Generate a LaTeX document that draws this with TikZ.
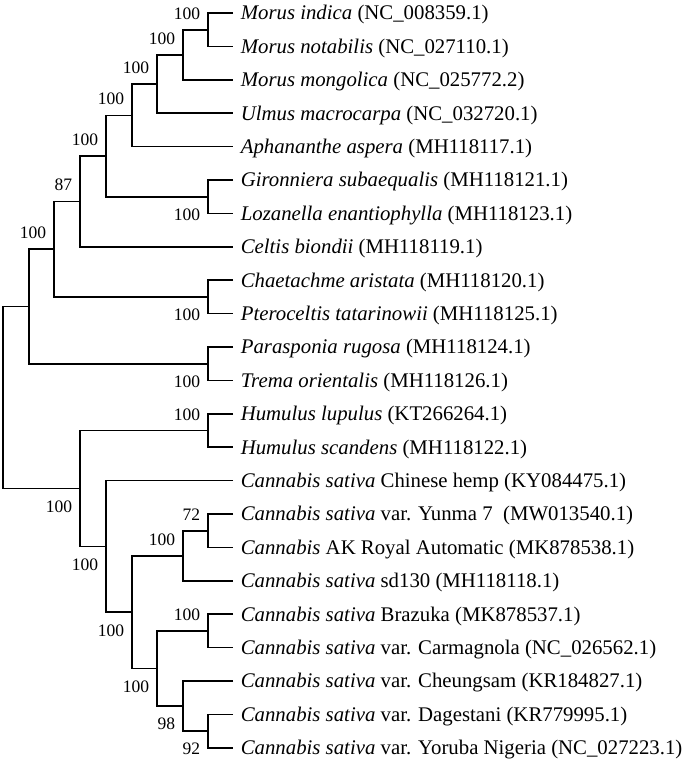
\documentclass[tikz,border=0pt]{standalone}
\usepackage{fontspec}
\setmainfont{Liberation Serif}

\begin{document}
\begin{tikzpicture}[x=1pt, y=-1pt, line width=1.6pt,
  leaf/.style={anchor=west, inner xsep=7pt, inner ysep=0pt, text height=13.8pt, text depth=0pt, font=\fontsize{20.8}{24}\selectfont},
  bsa/.style={anchor=south east, inner sep=0pt, xshift=-7pt, yshift=9.5pt, font=\fontsize{17.5}{20}\selectfont},
  bsb/.style={anchor=north east, inner sep=0pt, xshift=-7pt, yshift=-11.5pt, font=\fontsize{17.5}{20}\selectfont}]
  \useasboundingbox (0,0) rectangle (683,763);

  \node[leaf] (l1) at (233,13.0) {\textit{Morus indica} (NC\_008359.1)};
  \node[leaf] (l2) at (233,46.4) {\textit{Morus notabilis} (NC\_027110.1)};
  \node[leaf] (l3) at (233,79.8) {\textit{Morus mongolica} (NC\_025772.2)};
  \node[leaf] (l4) at (233,113.2) {\textit{Ulmus macrocarpa} (NC\_032720.1)};
  \node[leaf] (l5) at (233,146.6) {\textit{Aphananthe aspera} (MH118117.1)};
  \node[leaf] (l6) at (233,180.0) {\textit{Gironniera subaequalis} (MH118121.1)};
  \node[leaf] (l7) at (233,213.4) {\textit{Lozanella enantiophylla} (MH118123.1)};
  \node[leaf] (l8) at (233,246.8) {\textit{Celtis biondii} (MH118119.1)};
  \node[leaf] (l9) at (233,280.2) {\textit{Chaetachme aristata} (MH118120.1)};
  \node[leaf] (l10) at (233,313.6) {\textit{Pteroceltis tatarinowii} (MH118125.1)};
  \node[leaf] (l11) at (233,347.0) {\textit{Parasponia rugosa} (MH118124.1)};
  \node[leaf] (l12) at (233,380.4) {\textit{Trema orientalis} (MH118126.1)};
  \node[leaf] (l13) at (233,413.8) {\textit{Humulus lupulus} (KT266264.1)};
  \node[leaf] (l14) at (233,447.2) {\textit{Humulus scandens} (MH118122.1)};
  \node[leaf] (l15) at (233,480.6) {\textit{Cannabis sativa} Chinese hemp (KY084475.1)};
  \node[leaf] (l16) at (233,514.0) {\textit{Cannabis sativa} var. Yunma 7 \ (MW013540.1)};
  \node[leaf] (l17) at (233,547.4) {\textit{Cannabis} AK Royal Automatic (MK878538.1)};
  \node[leaf] (l18) at (233,580.8) {\textit{Cannabis sativa} sd130 (MH118118.1)};
  \node[leaf] (l19) at (233,614.2) {\textit{Cannabis sativa} Brazuka (MK878537.1)};
  \node[leaf] (l20) at (233,647.6) {\textit{Cannabis sativa} var. Carmagnola (NC\_026562.1)};
  \node[leaf] (l21) at (233,681.0) {\textit{Cannabis sativa} var. Cheungsam (KR184827.1)};
  \node[leaf] (l22) at (233,714.4) {\textit{Cannabis sativa} var. Dagestani (KR779995.1)};
  \node[leaf] (l23) at (233,747.8) {\textit{Cannabis sativa} var. Yoruba Nigeria (NC\_027223.1)};

  % inner nodes
  \coordinate (n1) at (208,29.7);
  \coordinate (n2) at (183,54.75);
  \coordinate (n3) at (157,84.0);
  \coordinate (n4) at (132,115.3);
  \coordinate (n5) at (208,196.7);
  \coordinate (n6) at (106,156.0);
  \coordinate (n7) at (80,201.4);
  \coordinate (n8) at (208,296.9);
  \coordinate (n9) at (54,249.2);
  \coordinate (n10) at (208,363.7);
  \coordinate (n11) at (29,306.5);
  \coordinate (n12) at (208,430.5);
  \coordinate (n13) at (208,530.7);
  \coordinate (n14) at (183,555.8);
  \coordinate (n15) at (208,630.9);
  \coordinate (n16) at (208,731.1);
  \coordinate (n17) at (183,706.0);
  \coordinate (n18) at (157,668.5);
  \coordinate (n19) at (132,612.2);
  \coordinate (n20) at (106,546.4);
  \coordinate (n21) at (80,488.5);
  \coordinate (n0) at (3,397.5);

  \draw (l1.west) -| (n1) |- (l2.west);
  \draw (n1) -| (n2) |- (l3.west);
  \draw (n2) -| (n3) |- (l4.west);
  \draw (n3) -| (n4) |- (l5.west);
  \draw (l6.west) -| (n5) |- (l7.west);
  \draw (n4) -| (n6) |- (n5);
  \draw (n6) -| (n7) |- (l8.west);
  \draw (l9.west) -| (n8) |- (l10.west);
  \draw (n7) -| (n9) |- (n8);
  \draw (l11.west) -| (n10) |- (l12.west);
  \draw (n9) -| (n11) |- (n10);
  \draw (l13.west) -| (n12) |- (l14.west);
  \draw (l16.west) -| (n13) |- (l17.west);
  \draw (n13) -| (n14) |- (l18.west);
  \draw (l19.west) -| (n15) |- (l20.west);
  \draw (l22.west) -| (n16) |- (l23.west);
  \draw (l21.west) -| (n17) |- (n16);
  \draw (n15) -| (n18) |- (n17);
  \draw (n14) -| (n19) |- (n18);
  \draw (l15.west) -| (n20) |- (n19);
  \draw (n12) -| (n21) |- (n20);
  \draw (n11) -| (n0) |- (n21);

  % bootstrap values
  \node[bsa] (b1) at (n1) {100};
  \node[bsa] (b2) at (n2) {100};
  \node[bsa] (b3) at (n3) {100};
  \node[bsa] (b4) at (n4) {100};
  \node[bsb] (b5) at (n5) {100};
  \node[bsa] (b6) at (n6) {100};
  \node[bsa] (b7) at (n7) {87};
  \node[bsb] (b8) at (n8) {100};
  \node[bsa] (b9) at (n9) {100};
  \node[bsb] (b10) at (n10) {100};
  \node[bsa] (b12) at (n12) {100};
  \node[bsa] (b13) at (n13) {72};
  \node[bsa] (b14) at (n14) {100};
  \node[bsa] (b15) at (n15) {100};
  \node[bsb] (b16) at (n16) {92};
  \node[bsb] (b17) at (n17) {98};
  \node[bsb] (b18) at (n18) {100};
  \node[bsb] (b19) at (n19) {100};
  \node[bsb] (b20) at (n20) {100};
  \node[bsb] (b21) at (n21) {100};
\end{tikzpicture}
\end{document}
